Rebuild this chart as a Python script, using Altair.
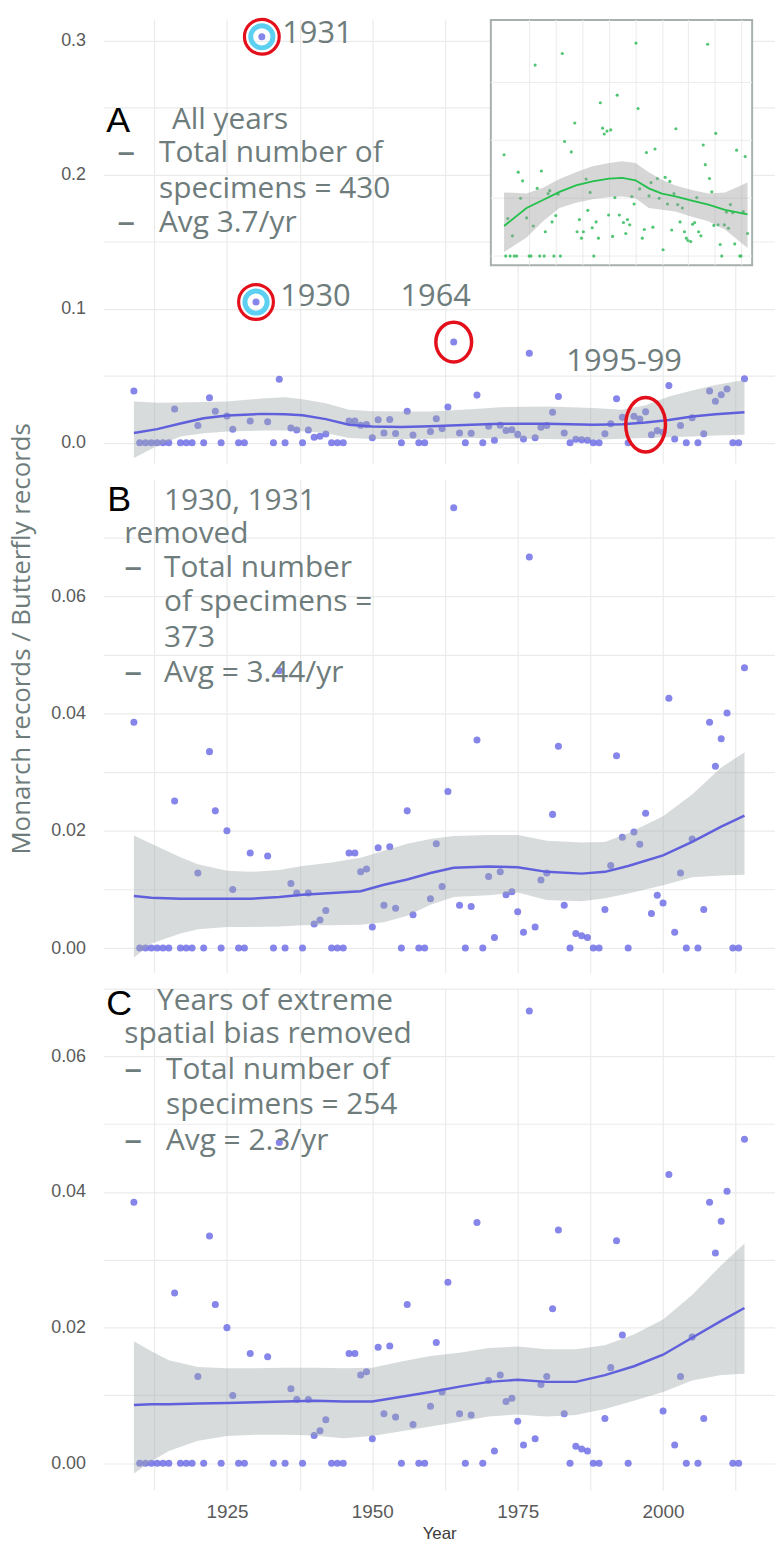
import altair as alt
import pandas as pd

# ---------------- data ----------------
# Panel C: years kept after removing 1930, 1931, 1964, 1995-99
YEARS_C = [1909, 1910, 1911, 1912, 1913, 1914, 1915, 1916, 1917, 1918, 1919, 1920, 1921, 1922, 1923, 1924,
           1925, 1926, 1927, 1928, 1929,
           1932, 1933, 1934, 1935, 1936, 1937, 1938, 1939, 1940, 1941, 1942, 1943, 1944, 1945, 1946, 1947,
           1948, 1949, 1950, 1951, 1952, 1953, 1954, 1955, 1956, 1957, 1958, 1959, 1960, 1961, 1962, 1963,
           1965, 1966, 1967, 1968, 1969, 1970, 1971, 1972, 1973, 1974, 1975, 1976, 1977, 1978, 1979, 1980,
           1981, 1982, 1983, 1984, 1985, 1986, 1987, 1988, 1989, 1990, 1991, 1992, 1993, 1994,
           2000, 2001, 2002, 2003, 2004, 2005, 2006, 2007, 2008, 2009, 2010, 2011, 2012, 2013, 2014]
RATIO_C = [0.0385, 0, 0, 0, 0, 0, 0, 0.0251, 0, 0, 0, 0.0128, 0, 0.0335, 0.0234, 0,
           0.0200, 0.0100, 0, 0, 0.0162,
           0.0157, 0, 0.0473, 0, 0.0110, 0.0094, 0, 0.0094, 0.0041, 0.0048, 0.0064, 0, 0, 0, 0.0162, 0.0162,
           0.0130, 0.0135, 0.0036, 0.0171, 0.0073, 0.0173, 0.0068, 0, 0.0234, 0.0057, 0, 0, 0.0084, 0.0178, 0.0105, 0.0267,
           0.0073, 0, 0.0071, 0.0355, 0, 0.0122, 0.0018, 0.0130, 0.0091, 0.0096, 0.0062, 0.0027, 0.0667, 0.0036, 0.0116, 0.0128,
           0.0228, 0.0344, 0.0073, 0, 0.0025, 0.0021, 0.0018, 0, 0, 0.0066, 0.0141, 0.0328, 0.0189, 0,
           0.0077, 0.0426, 0.0027, 0.0128, 0, 0.0186, 0, 0.0066, 0.0385, 0.0310, 0.0357, 0.0401, 0, 0, 0.0478]
# extra years present in panel B
YEARS_B_EXTRA = [1964, 1995, 1996, 1997, 1998, 1999]
RATIO_B_EXTRA = [0.0751, 0.0198, 0.0177, 0.0230, 0.0059, 0.0090]
# extra years present in panel A
YEARS_A_EXTRA = [1930, 1931]
RATIO_A_EXTRA = [0.105, 0.303]

# smooth fits and confidence bands
SM_A_YEAR = [1909, 1913, 1917, 1921, 1925, 1931, 1935, 1938, 1942, 1946, 1950, 1955, 1960, 1967, 1972, 1980,
             1988, 1993, 1997, 2001, 2005, 2009, 2014]
SM_A_FIT = [0.0072, 0.0101, 0.0143, 0.0183, 0.0203, 0.0215, 0.0213, 0.0205, 0.0176, 0.0134, 0.0120, 0.0117,
            0.0122, 0.0134, 0.0141, 0.0141, 0.0134, 0.0138, 0.0151, 0.0170, 0.0195, 0.0212, 0.0228]
SM_A_HI = [0.0307, 0.0299, 0.0300, 0.0303, 0.0307, 0.0330, 0.0339, 0.0325, 0.0295, 0.0245, 0.0235, 0.0232,
           0.0232, 0.0250, 0.0265, 0.0270, 0.0258, 0.0245, 0.0280, 0.0344, 0.0390, 0.0431, 0.0468]
SM_A_LO = [-0.0114, -0.0025, 0.0047, 0.0070, 0.0084, 0.0091, 0.0091, 0.0085, 0.0072, 0.0035, 0.0027, 0.0027,
           0.0030, 0.0035, 0.0030, 0.0027, 0.0022, 0.0030, 0.0035, 0.0040, 0.0047, 0.0053, 0.0059]

SM_B_YEAR = [1909, 1912, 1917, 1920, 1925, 1929, 1934, 1938, 1943, 1948, 1952, 1956, 1960, 1964, 1970, 1975,
             1980, 1986, 1990, 1994, 2000, 2005, 2010, 2014]
SM_B_FIT = [0.0089, 0.0086, 0.0084, 0.0084, 0.0084, 0.0084, 0.0087, 0.0091, 0.0094, 0.0097, 0.0108, 0.0117,
            0.0128, 0.0137, 0.0139, 0.0138, 0.0130, 0.0127, 0.0130, 0.0140, 0.0158, 0.0181, 0.0207, 0.0226]
SM_B_HI = [0.0192, 0.0178, 0.0155, 0.0143, 0.0132, 0.0130, 0.0133, 0.0140, 0.0146, 0.0154, 0.0166, 0.0178,
           0.0186, 0.0191, 0.0193, 0.0193, 0.0183, 0.0180, 0.0181, 0.0196, 0.0225, 0.0262, 0.0308, 0.0334]
SM_B_LO = [-0.0016, 0.0008, 0.0025, 0.0032, 0.0036, 0.0036, 0.0037, 0.0039, 0.0039, 0.0040, 0.0044, 0.0055,
           0.0074, 0.0087, 0.0090, 0.0095, 0.0082, 0.0080, 0.0085, 0.0093, 0.0107, 0.0121, 0.0124, 0.0125]

SM_C_YEAR = [1909, 1912, 1915, 1920, 1925, 1930, 1935, 1940, 1945, 1950, 1955, 1960, 1965, 1970, 1975, 1980,
             1985, 1990, 1995, 2000, 2005, 2010, 2014]
SM_C_FIT = [0.0086, 0.0087, 0.0087, 0.0088, 0.0089, 0.0090, 0.0091, 0.0092, 0.0091, 0.0091, 0.0098, 0.0105,
            0.0113, 0.0120, 0.0123, 0.0120, 0.0120, 0.0130, 0.0143, 0.0160, 0.0185, 0.0210, 0.0229]
SM_C_HI = [0.0180, 0.0165, 0.0152, 0.0142, 0.0140, 0.0140, 0.0141, 0.0141, 0.0140, 0.0141, 0.0150, 0.0158,
           0.0163, 0.0170, 0.0172, 0.0168, 0.0168, 0.0174, 0.0190, 0.0212, 0.0248, 0.0292, 0.0324]
SM_C_LO = [-0.0015, 0.0003, 0.0018, 0.0033, 0.0040, 0.0042, 0.0042, 0.0041, 0.0037, 0.0040, 0.0047, 0.0054,
           0.0061, 0.0069, 0.0072, 0.0069, 0.0071, 0.0080, 0.0092, 0.0105, 0.0122, 0.0130, 0.0132]

# inset (green) scatter and smooth
INSET_YEAR = [1909.0, 1909.7, 1910.6, 1911.6, 1912.6, 1913.4, 1914.4, 1915.1, 1916.1, 1917.0, 1918.7, 1919.8,
              1920.6, 1921.6, 1922.4, 1923.3, 1924.4, 1925.1, 1926.3, 1926.8, 1928.0, 1928.7, 1929.7, 1930.5,
              1931.3, 1932.3, 1933.3, 1934.1, 1935.1, 1938.0, 1939.5, 1940.5, 1941.5, 1942.4, 1943.2, 1944.4,
              1945.1, 1946.1, 1947.0, 1947.7, 1948.7, 1949.7, 1950.5, 1951.5, 1952.2, 1953.4, 1954.1, 1955.0,
              1955.8, 1956.8, 1957.8, 1958.7, 1960.5, 1961.5, 1962.2, 1963.2, 1964.1, 1965.1, 1965.9, 1966.8,
              1967.5, 1968.6, 1969.5, 1970.4, 1971.5, 1972.4, 1973.2, 1974.1, 1975.1, 1975.9, 1977.6, 1978.5,
              1979.5, 1980.5, 1981.3, 1982.3, 1983.1, 1983.9, 1984.9, 1985.9, 1986.8, 1987.6, 1988.3, 1989.5,
              1990.3, 1991.2, 1992.1, 1992.9, 1993.9, 1994.9, 1995.8, 1996.8, 1997.6, 1998.6, 1999.5, 2000.3,
              2001.3, 2002.2, 2002.9, 2004.0, 2004.9, 2005.8, 2006.6, 2007.6, 2008.5, 2009.3, 2010.7, 2011.2,
              2012.2, 2013.0, 2014.0]
INSET_VAL = [1.75, 0, 0.65, 0, 0.35, 0, 0, 1.45, 1.00, 1.30, 0.66, 0,
             0, 0.52, 3.30, 1.17, 0, 1.47, 0, 0.42, 1.08, 1.13, 0.59, 0,
             0.70, 1.07, 0, 3.50, 1.98, 1.80, 2.30, 0.42, 0.63, 0.31, 0.42, 1.33,
             0.79, 1.10, 0.49, 0, 0.59, 0.31, 2.65, 2.21, 2.11, 2.16, 0.71, 2.18,
             0.34, 1.01, 2.78, 0.71, 0.58, 0.39, 0.63, 0.54, 1.03, 0.90, 3.68, 2.55,
             1.16, 0.31, 0.46, 1.79, 1.04, 1.27, 0.50, 1.85, 1.34, 1.00, 0.11, 1.36,
             0.90, 1.29, 0.45, 1.08, 2.20, 0.89, 0.59, 0.83, 0.42, 0.31, 0.27, 0.25,
             0.55, 0.58, 1.01, 0.42, 0.35, 1.92, 1.58, 3.66, 1.34, 1.11, 0.53, 2.12,
             0.54, 0.20, 0, 0.54, 0.76, 0.48, 0.89, 0.75, 0.21, 1.83, 0, 0,
             0.77, 1.72, 0.39]
INSET_SM_YEAR = [1909.0, 1918.7, 1925.8, 1932.9, 1940.0, 1947.1, 1954.3, 1960.0, 1965.7, 1971.4, 1977.1,
                 1982.9, 1990.0, 1997.1, 2004.3, 2014.0]
INSET_SM_FIT = [0.52, 0.83, 0.97, 1.11, 1.22, 1.29, 1.34, 1.35, 1.31, 1.17, 1.08, 1.03, 0.96, 0.89, 0.80, 0.72]
INSET_SM_HI = [1.10, 1.08, 1.18, 1.33, 1.45, 1.55, 1.61, 1.64, 1.61, 1.45, 1.32, 1.22, 1.14, 1.08, 1.10, 1.27]
INSET_SM_LO = [0.07, 0.32, 0.60, 0.83, 0.92, 0.98, 1.02, 1.03, 1.00, 0.83, 0.80, 0.77, 0.68, 0.60, 0.46, 0.14]
INSET_XDOM = [1903.3, 2016.0]
INSET_YDOM = [-0.16, 4.08]
INSET_GRID_X = [1920.0, 1931.5, 1943.0, 1954.5, 1966.0, 1977.5, 1988.5, 2000.0, 2011.5]
INSET_GRID_Y = [0, 1, 2, 3]

# annotated points
RING_YEARS = [1930, 1931]
RING_VALUES = [0.105, 0.303]
OVAL_1964 = (1964, 0.0751)
OVAL_1995_99 = (1997, 0.0134)

# axes
X_DOMAIN = [1903.75, 2019.25]
X_GRID = [1912.5, 1925, 1937.5, 1950, 1962.5, 1975, 1987.5, 2000, 2012.5]
Y_DOMAIN_A = [-0.0152, 0.3163]
Y_GRID_A = [0, 0.05, 0.1, 0.15, 0.2, 0.25, 0.3]
Y_DOMAIN_B = [-0.0042, 0.0800]
Y_DOMAIN_C = [-0.0040, 0.0700]
Y_GRID_BC = [0, 0.01, 0.02, 0.03, 0.04, 0.05, 0.06, 0.07]

assert len(YEARS_C) == len(RATIO_C)
assert len(INSET_YEAR) == len(INSET_VAL)

# ---------------- styles ----------------
W = 676
H_A, H_B, H_C = 447, 497, 505
POINT = "#7070e6"
LINE = "#6060dc"
BAND = "#9aa6a4"
TEXT = "#6e7c7c"
RED = "#e3101c"
CYAN = "#5dd0f2"
GRID = "#ebebeb"
LABEL = "#5a5a5a"
GREEN_PT = "#3fbf66"
GREEN_LINE = "#22c04a"

df_c = pd.DataFrame({"year": YEARS_C, "ratio": RATIO_C})
df_b = pd.concat([df_c, pd.DataFrame({"year": YEARS_B_EXTRA, "ratio": RATIO_B_EXTRA})]).sort_values("year")
df_a = pd.concat([df_b, pd.DataFrame({"year": YEARS_A_EXTRA, "ratio": RATIO_A_EXTRA})]).sort_values("year")

sm_a = pd.DataFrame({"year": SM_A_YEAR, "fit": SM_A_FIT, "lo": SM_A_LO, "hi": SM_A_HI})
sm_b = pd.DataFrame({"year": SM_B_YEAR, "fit": SM_B_FIT, "lo": SM_B_LO, "hi": SM_B_HI})
sm_c = pd.DataFrame({"year": SM_C_YEAR, "fit": SM_C_FIT, "lo": SM_C_LO, "hi": SM_C_HI})

XS = alt.Scale(domain=X_DOMAIN, nice=False, zero=False)


def x_axis(show_labels):
    if show_labels:
        return alt.Axis(values=X_GRID, format="d", labelExpr="datum.value % 25 == 0 ? datum.label : ''",
                        ticks=False, domain=False, grid=True, gridColor=GRID, gridWidth=1.2,
                        labelFontSize=19, labelColor=LABEL, labelFont="Liberation Sans", labelPadding=12,
                        labelOverlap=False, title="Year", titleFontSize=17, titleColor="#3a3a3a",
                        titleFont="Liberation Sans", titleFontWeight="normal", titlePadding=4)
    return alt.Axis(values=X_GRID, labels=False, ticks=False, domain=False, grid=True,
                    gridColor=GRID, gridWidth=1.2, title=None)


def y_axis(vals, fmt, expr):
    return alt.Axis(values=vals, format=fmt, labelExpr=expr, ticks=False, domain=False, grid=True,
                    gridColor=GRID, gridWidth=1.2, labelFontSize=18, labelColor=LABEL,
                    labelFont="Liberation Sans", labelPadding=18, labelOverlap=False, title=None)


def txt(s, x, y, size=30, color=TEXT, font="Open Sans", align="left", baseline="alphabetic", angle=0):
    return alt.Chart(pd.DataFrame({"t": [s]})).mark_text(
        fontSize=size, color=color, font=font, align=align, baseline=baseline, angle=angle
    ).encode(x=alt.value(x), y=alt.value(y), text="t:N")


def dash(x, y):
    return txt("–", x, y, size=36)


def panel_core(df, sm, ydom, show_x, yvals, yfmt, yexpr):
    xa = x_axis(show_x)
    ya = y_axis(yvals, yfmt, yexpr)
    ys = alt.Scale(domain=ydom, nice=False, zero=False)
    X = lambda f: alt.X(f"{f}:Q", scale=XS, axis=xa)
    Y = lambda f: alt.Y(f"{f}:Q", scale=ys, axis=ya)
    pts = alt.Chart(df).mark_circle(size=50, color=POINT, opacity=0.85).encode(x=X("year"), y=Y("ratio"))
    band = alt.Chart(sm).mark_area(color=BAND, opacity=0.4).encode(x=X("year"), y=Y("lo"), y2="hi:Q")
    line = alt.Chart(sm).mark_line(color=LINE, strokeWidth=2.5).encode(x=X("year"), y=Y("fit"))
    return [pts, band, line], X, Y


A_EXPR = "abs(datum.value*10 - round(datum.value*10)) < 0.001 ? datum.label : ''"
BC_EXPR = "round(datum.value*100) % 2 == 0 ? datum.label : ''"

# ---------------- Panel A ----------------
layers_a, XA, YA = panel_core(df_a, sm_a, Y_DOMAIN_A, False, Y_GRID_A, ".1f", A_EXPR)
rings = pd.DataFrame({"year": RING_YEARS, "ratio": RING_VALUES})
cyan = alt.Chart(rings).mark_point(shape="circle", filled=False, color=CYAN, strokeWidth=5,
                                   size=500, opacity=1).encode(x=XA("year"), y=YA("ratio"))
red = alt.Chart(rings).mark_point(shape="circle", filled=False, color=RED, strokeWidth=3.2,
                                  size=1225, opacity=1).encode(x=XA("year"), y=YA("ratio"))
oval_path_a = "M -0.9 0 A 0.9 1 0 1 0 0.9 0 A 0.9 1 0 1 0 -0.9 0 Z"
oval_path_b = "M -0.73 0 A 0.73 1 0 1 0 0.73 0 A 0.73 1 0 1 0 -0.73 0 Z"
o1 = alt.Chart(pd.DataFrame({"year": [OVAL_1964[0]], "ratio": [OVAL_1964[1]]})).mark_point(
    shape=oval_path_a, filled=False, color=RED, strokeWidth=3.5, size=1600, opacity=1
).encode(x=XA("year"), y=YA("ratio"))
o2 = alt.Chart(pd.DataFrame({"year": [OVAL_1995_99[0]], "ratio": [OVAL_1995_99[1]]})).mark_point(
    shape=oval_path_b, filled=False, color=RED, strokeWidth=3.5, size=3000, opacity=1
).encode(x=XA("year"), y=YA("ratio"))

texts_a = [
    txt("A", 3, 114, size=36, color="black", font="Liberation Sans"),
    txt("All years", 69, 111),
    dash(14, 146), txt("Total number of", 56, 144),
    txt("specimens = 430", 56, 180),
    dash(14, 216), txt("Avg 3.7/yr", 56, 214),
    txt("1931", 180, 0, size=31, baseline="top"),
    txt("1930", 178, 289, size=31),
    txt("1964", 299, 289, size=31),
    txt("1995-99", 466, 354, size=31),
]
main_a = alt.layer(*layers_a, cyan, red, o1, o2, *texts_a)

# inset
ISX = alt.Scale(domain=INSET_XDOM, range=[390, 653], nice=False, zero=False)
ISY = alt.Scale(domain=INSET_YDOM, range=[248, 1], nice=False, zero=False)
IX = lambda f: alt.X(f"{f}:Q", scale=ISX, axis=None)
IY = lambda f: alt.Y(f"{f}:Q", scale=ISY, axis=None)
box = alt.Chart(pd.DataFrame({"x0": [INSET_XDOM[0]], "x1": [INSET_XDOM[1]],
                              "y0": [INSET_YDOM[0]], "y1": [INSET_YDOM[1]]})).mark_rect(
    fill="white", stroke="#a7afaf", strokeWidth=2).encode(x=IX("x0"), x2="x1:Q", y=IY("y0"), y2="y1:Q")
igx = alt.Chart(pd.DataFrame({"gx": INSET_GRID_X, "y0": INSET_YDOM[0], "y1": INSET_YDOM[1]})).mark_rule(
    color="#ececec", strokeWidth=1).encode(x=IX("gx"), y=IY("y0"), y2="y1:Q")
igy = alt.Chart(pd.DataFrame({"gy": INSET_GRID_Y, "x0": INSET_XDOM[0], "x1": INSET_XDOM[1]})).mark_rule(
    color="#ececec", strokeWidth=1).encode(y=IY("gy"), x=IX("x0"), x2="x1:Q")
ism = pd.DataFrame({"year": INSET_SM_YEAR, "fit": INSET_SM_FIT, "lo": INSET_SM_LO, "hi": INSET_SM_HI})
ipts = alt.Chart(pd.DataFrame({"year": INSET_YEAR, "val": INSET_VAL})).mark_circle(
    size=10, color=GREEN_PT, opacity=0.9).encode(x=IX("year"), y=IY("val"))
iband = alt.Chart(ism).mark_area(color="#999999", opacity=0.4).encode(x=IX("year"), y=IY("lo"), y2="hi:Q")
iline = alt.Chart(ism).mark_line(color=GREEN_LINE, strokeWidth=1.8).encode(x=IX("year"), y=IY("fit"))
inset = alt.layer(box, igx, igy, ipts, iband, iline)

panel_a = alt.layer(main_a, inset).resolve_scale(x="independent", y="independent").properties(
    width=W, height=H_A)

# ---------------- Panel B ----------------
layers_b, XB, YB = panel_core(df_b, sm_b, Y_DOMAIN_B, False, Y_GRID_BC, ".2f", BC_EXPR)
texts_b = [
    txt("B", 4, 32, size=36, color="black", font="Liberation Sans"),
    txt("1930, 1931", 61, 31),
    txt("removed", 21, 64),
    dash(21, 101), txt("Total number", 61, 99),
    txt("of specimens  =", 61, 133),
    txt("373", 61, 169),
    dash(21, 206), txt("Avg = 3.44/yr", 61, 204),
    txt("Monarch records / Butterfly records", -82, 161, size=26, align="center",
        baseline="middle", angle=270),
]
panel_b = alt.layer(*layers_b, *texts_b).properties(width=W, height=H_B)

# ---------------- Panel C ----------------
layers_c, XC, YC = panel_core(df_c, sm_c, Y_DOMAIN_C, True, Y_GRID_BC, ".2f", BC_EXPR)
texts_c = [
    txt("C", 3, 27, size=36, color="black", font="Liberation Sans"),
    txt("Years of extreme", 54, 22),
    txt("spatial bias removed", 21, 55),
    dash(21, 93), txt("Total number of", 63, 91),
    txt("specimens = 254", 63, 126),
    dash(21, 164), txt("Avg = 2.3/yr", 63, 162),
]
panel_c = alt.layer(*layers_c, *texts_c).properties(width=W, height=H_C)

chart = alt.vconcat(panel_a, panel_b, panel_c, spacing=16, bounds="flush").properties(
    padding={"left": 0, "top": 0, "right": 0, "bottom": 0}, background="white"
).configure_view(stroke=None)

chart.save("out.html", embed_options={"renderer": "svg", "actions": False})
